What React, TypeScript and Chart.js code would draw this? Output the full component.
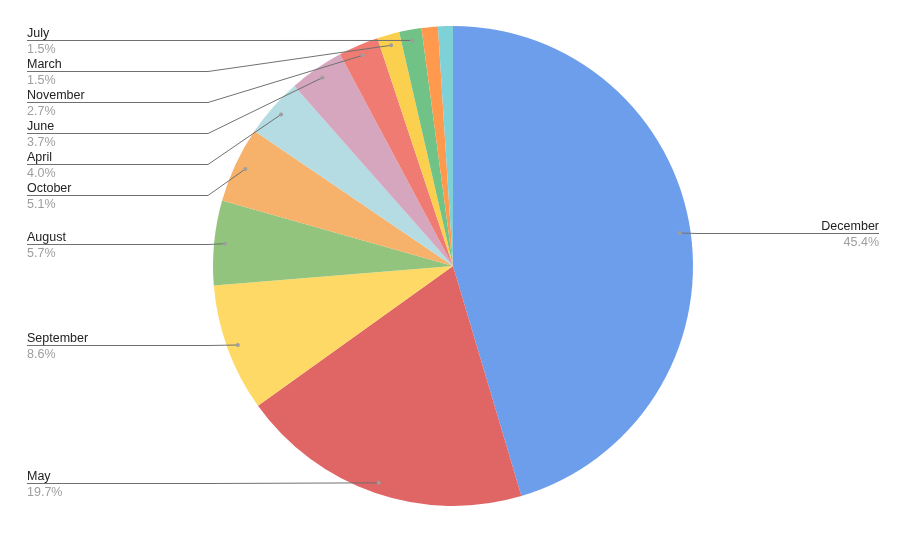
import React, { useEffect, useRef } from "react";
import { Chart, registerables } from "chart.js";

Chart.register(...registerables);

const months = [
  "December", "May", "September", "August", "October", "April",
  "June", "November", "March", "July", "January", "February",
];
const shares = [45.4, 19.7, 8.6, 5.7, 5.1, 4.0, 3.7, 2.7, 1.5, 1.5, 1.1, 1.0];
const colors = [
  "#6d9eeb", "#e06666", "#ffd966", "#93c47d", "#f6b26b", "#b4dce2",
  "#d5a6bd", "#f07b72", "#fcd04f", "#71c287", "#ff994d", "#7ed1d7",
];
const minLabelled = 1.5;

const FONT = "Liberation Sans, Arial, sans-serif";

const calloutPlugin = {
  id: "callouts",
  afterDatasetsDraw(chart: any) {
    const ctx = chart.ctx as CanvasRenderingContext2D;
    const meta = chart.getDatasetMeta(0);
    const data = chart.data.datasets[0].data as number[];
    const total = data.reduce((a, b) => a + b, 0);
    const W = chart.width;
    const textLeft = 27;
    const elbowLeft = 208;
    const textRight = W - 27;
    const elbowRight = W - 208;
    const gap = 31;
    type Item = { px: number; py: number; name: string; pct: string; side: number; y: number };
    const items: Item[] = [];
    meta.data.forEach((arc: any, i: number) => {
      if (data[i] < minLabelled) return;
      const mid = (arc.startAngle + arc.endAngle) / 2;
      const r = arc.outerRadius * 0.955;
      const px = arc.x + Math.cos(mid) * r;
      const py = arc.y + Math.sin(mid) * r;
      items.push({
        px, py,
        name: chart.data.labels[i],
        pct: ((data[i] / total) * 100).toFixed(1) + "%",
        side: Math.cos(mid) >= 0 ? 1 : -1,
        y: py,
      });
    });
    [-1, 1].forEach((side) => {
      const list = items.filter((it) => it.side === side).sort((a, b) => a.py - b.py);
      let prev = -Infinity;
      list.forEach((it) => {
        it.y = Math.max(it.py, prev + gap);
        prev = it.y;
      });
    });
    ctx.save();
    items.forEach((it) => {
      const y = Math.round(it.y) + 0.5;
      ctx.strokeStyle = "#707070";
      ctx.lineWidth = 1;
      ctx.beginPath();
      if (it.side < 0) {
        ctx.moveTo(textLeft, y);
        ctx.lineTo(elbowLeft, y);
        ctx.lineTo(it.px, it.py);
      } else {
        ctx.moveTo(textRight, y);
        ctx.lineTo(elbowRight, y);
        ctx.lineTo(it.px, it.py);
      }
      ctx.stroke();
      ctx.fillStyle = "#9e9e9e";
      ctx.beginPath();
      ctx.arc(it.px, it.py, 2, 0, Math.PI * 2);
      ctx.fill();
      ctx.font = "12.5px " + FONT;
      ctx.textBaseline = "alphabetic";
      ctx.textAlign = it.side < 0 ? "left" : "right";
      const tx = it.side < 0 ? textLeft : textRight;
      ctx.fillStyle = "#222222";
      ctx.fillText(it.name, tx, y - 4);
      ctx.fillStyle = "#9e9e9e";
      ctx.fillText(it.pct, tx, y + 12.5);
    });
    ctx.restore();
  },
};

export default function App() {
  const ref = useRef<HTMLCanvasElement | null>(null);
  useEffect(() => {
    if (!ref.current) return;
    const chart = new Chart(ref.current, {
      type: "pie",
      data: {
        labels: months,
        datasets: [
          {
            data: shares,
            backgroundColor: colors,
            borderWidth: 0,
          },
        ],
      },
      options: {
        animation: false,
        responsive: false,
        layout: { padding: { top: 26, bottom: 27, left: 0, right: 0 } },
        plugins: {
          legend: { display: false },
          tooltip: { enabled: false },
        },
      },
      plugins: [calloutPlugin],
    });
    return () => chart.destroy();
  }, []);
  return (
    <div style={{ position: "fixed", left: 0, top: 0, width: 906, height: 533, background: "#fff" }}>
      <canvas ref={ref} width={906} height={533} style={{ display: "block" }} />
    </div>
  );
}
